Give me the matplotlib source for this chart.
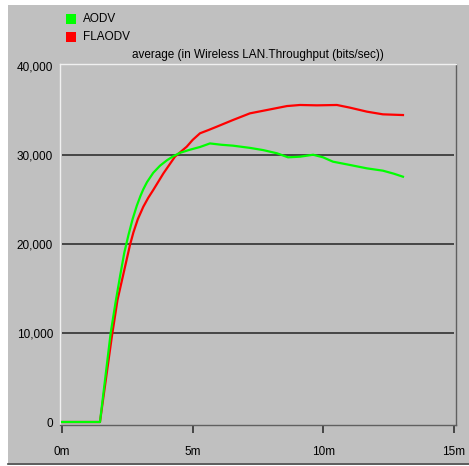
import matplotlib
matplotlib.use("Agg")
import matplotlib.pyplot as plt
from matplotlib.patches import Rectangle
from matplotlib.lines import Line2D

# data (time in minutes, throughput in bits/sec)
aodv_t = [0.0, 1.45, 1.86, 2.05, 2.22, 2.38, 2.54, 2.70, 2.86, 3.00, 3.11, 3.25,
          3.49, 3.75, 4.01, 4.25, 4.52, 4.90, 5.28, 5.66, 6.10, 6.54, 7.19, 7.70,
          8.23, 8.65, 9.11, 9.61, 9.99, 10.37, 11.02, 11.67, 12.28, 12.70, 13.05]
aodv_v = [0, 0, 10000, 13500, 16400, 19000, 21000, 22800, 24300, 25400, 26150,
          26950, 28000, 28800, 29400, 29850, 30250, 30600, 30900, 31300, 31150,
          31050, 30800, 30550, 30190, 29740, 29810, 30030, 29740, 29250, 28880,
          28500, 28240, 27900, 27560]

flaodv_t = [0.0, 1.45, 1.90, 2.12, 2.41, 2.60, 2.73, 2.90, 3.11, 3.30, 3.49,
            3.88, 4.32, 4.77, 5.00, 5.28, 5.60, 5.92, 6.54, 7.19, 7.85, 8.61,
            9.11, 9.76, 10.52, 11.02, 11.67, 12.28, 13.05]
flaodv_v = [0, 0, 9500, 13700, 17450, 19900, 21300, 22800, 24190, 25200, 26070,
            27940, 29810, 30930, 31700, 32440, 32800, 33180, 33930, 34680, 35060,
            35500, 35620, 35580, 35620, 35320, 34870, 34570, 34490]

x_ticks = [0, 5, 10, 15]
x_labels = ["0m", "5m", "10m", "15m"]
y_ticks = [0, 10000, 20000, 30000, 40000]
y_labels = ["0", "10,000", "20,000", "30,000", "40,000"]
grid_levels = [10000, 20000, 30000]

W, H = 469, 466
BG = "#c0c0c0"
FONT = "Liberation Sans"


def fx(px):
    return px / W


def fy(py):
    return 1 - py / H


fig = plt.figure(figsize=(W / 100, H / 100), dpi=100, facecolor="white")

# grey panel behind everything
fig.add_artist(Rectangle((fx(8), fy(463)), fx(469) - fx(8), fy(5) - fy(463),
                         transform=fig.transFigure, facecolor=BG,
                         edgecolor="none", zorder=-10))
fig.add_artist(Line2D([fx(8), 1], [fy(463.5), fy(463.5)],
                      transform=fig.transFigure, color="#404040", lw=1.2))

ax = fig.add_axes([fx(60), fy(425), fx(456) - fx(60), fy(64) - fy(425)])
ax.set_facecolor(BG)
ax.set_xlim(-0.08, 15.08)
ax.set_ylim(-337, 40225)

for lvl in grid_levels:
    ax.hlines(lvl, 0, 15, color="#3c3c3c", lw=1.3, zorder=1)

ax.plot(flaodv_t, flaodv_v, color="#ff0000", lw=1.6, zorder=3)
ax.plot(aodv_t, aodv_v, color="#00ff00", lw=1.6, zorder=4)

ax.spines["top"].set_color("#f0f0f0")
ax.spines["left"].set_color("#f0f0f0")
ax.spines["right"].set_color("#606060")
ax.spines["bottom"].set_color("#606060")
for s in ax.spines.values():
    s.set_linewidth(1.0)

ax.set_xticks(x_ticks)
ax.set_xticklabels(x_labels, fontsize=8.5, family=FONT)
ax.tick_params(axis="x", direction="out", length=6, width=1.2,
               color="#303030", pad=9)
ax.set_yticks(y_ticks)
ax.set_yticklabels(y_labels, fontsize=8.5, family=FONT)
ax.tick_params(axis="y", length=0, pad=5)

fig.text(fx(258), fy(55), "average (in Wireless LAN.Throughput (bits/sec))",
         ha="center", va="center", fontsize=8.5, family=FONT)

# legend
for py, col, name in [(14, "#00ff00", "AODV"), (32, "#ff0000", "FLAODV")]:
    fig.add_artist(Rectangle((fx(66), fy(py + 10)), fx(10), 10 / H,
                             transform=fig.transFigure, facecolor=col,
                             edgecolor="none"))
    fig.text(fx(83), fy(py + 5), name, ha="left", va="center",
             fontsize=8.5, family=FONT)

fig.savefig("out.png", dpi=100, facecolor="white")
